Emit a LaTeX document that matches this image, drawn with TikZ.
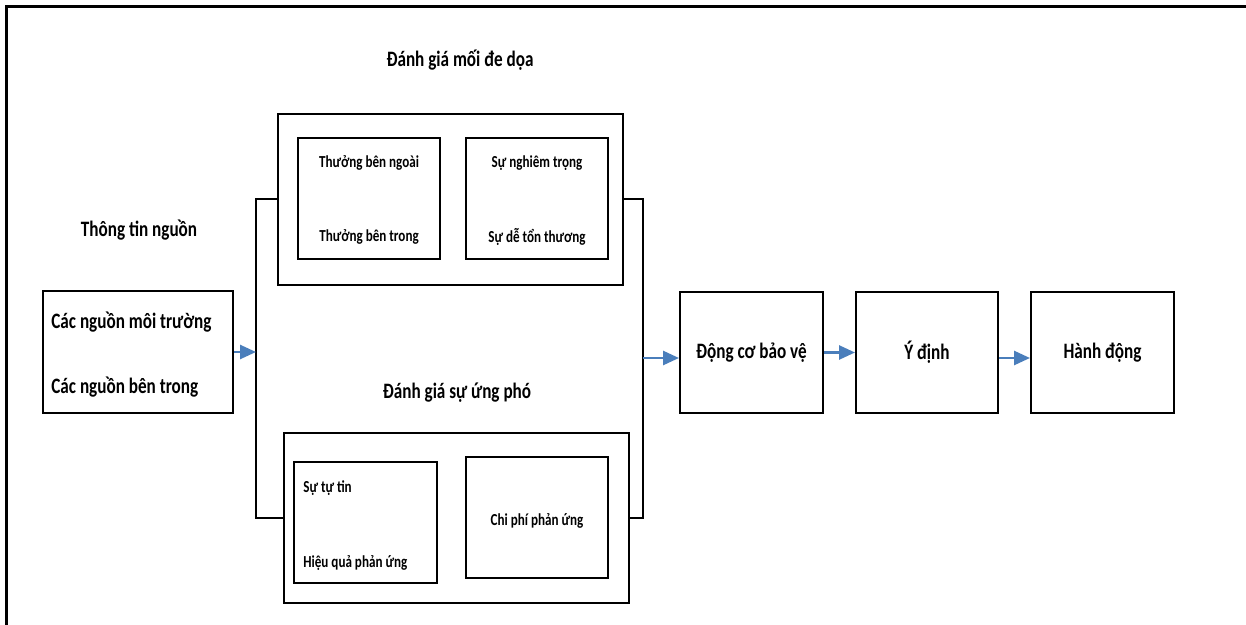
\documentclass[tikz,border=0pt]{standalone}
\usepackage{fontspec}
\setmainfont{Carlito}[FakeStretch=0.78]
\usepackage{xcolor}
\usepackage{tikz}
\usetikzlibrary{arrows.meta,fit}
\definecolor{arrowblue}{HTML}{4A7EBB}

\tikzset{
box/.style={draw,line width=1pt,inner sep=0pt},
big/.style={font=\fontsize{11}{13}\selectfont\bfseries,inner sep=0pt},
small/.style={font=\fontsize{8.4}{10}\selectfont\bfseries,inner sep=0pt},
link/.style={line width=1pt},
flow/.style={-{Triangle[length=8pt,width=7pt]},line width=1.3pt,arrowblue}
}

\begin{document}
\begin{tikzpicture}[x=0.5pt,y=-0.5pt]
\useasboundingbox (0,0) rectangle (1246,625);
\draw[line width=1.5pt](6,625)--(6,7)--(1246,7);
% nguon
\node[box,fit={(43,291)(233,413)}](src){};
\node[big]at(139,230){Thông tin nguồn};
\node[big,anchor=west](src1)at(51,322){Các nguồn môi trường};
\node[big,anchor=west](src2)at(51,387){Các nguồn bên trong};
% moi de doa
\node[big](threatlbl)at(460,60){Đánh giá mối đe dọa};
\node[box,fit={(278,114)(623,285)}](threat){};
\node[box,fit={(298,138)(440,259)}](tin1){};
\node[box,fit={(466,138)(608,259)}](tin2){};
\node[small]at(369,163){Thưởng bên ngoài};
\node[small]at(369,237){Thưởng bên trong};
\node[small]at(537,163){Sự nghiêm trọng};
\node[small]at(537,237){Sự dễ tổn thương};
% ung pho
\node[big](copelbl)at(457,393){Đánh giá sự ứng phó};
\node[box,fit={(284,433)(629,603)}](cope){};
\node[box,fit={(294,462)(437,583)}](cin1){};
\node[box,fit={(466,457)(608,578)}](cin2){};
\node[small,anchor=west]at(303,488){Sự tự tin};
\node[small,anchor=west]at(303,563){Hiệu quả phản ứng};
\node[small]at(537,521){Chi phí phản ứng};
% chuoi ben phai
\node[box,fit={(680,292)(823,413)}](motive){};
\node[box,fit={(856,292)(998,413)}](intent){};
\node[box,fit={(1031,292)(1174,413)}](action){};
\node[big]at(motive.center){Động cơ bảo vệ};
\node[big]at(intent.center){Ý định};
\node[big]at(action.center){Hành động};
% noi
\coordinate(lbar)at(256,352);
\coordinate(rbar)at(643,358);
\draw[link](threat.west)-|(lbar)|-(cope.west);
\draw[link](threat.east)-|(rbar)|-(cope.east);
\draw[flow](src.east)--(lbar);
\draw[flow](rbar)--(motive.west|-rbar);
\draw[flow](motive.east)--(intent.west);
\draw[flow](intent.east|-rbar)--(action.west|-rbar);
\end{tikzpicture}
\end{document}
